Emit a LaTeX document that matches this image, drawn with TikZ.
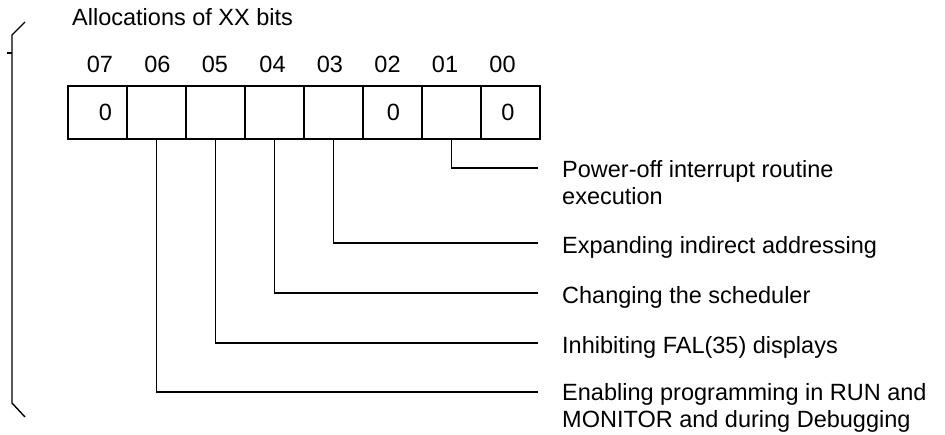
\documentclass[tikz,border=0pt]{standalone}
\usepackage{fontspec}
\setmainfont{Liberation Sans}
\begin{document}
\begin{tikzpicture}[x=1pt,y=-1pt,
  txt/.style={inner sep=0pt, font=\fontsize{23.5}{27}\selectfont},
  cell/.style={draw, line width=1.8pt, minimum width=59pt, minimum height=53pt, inner sep=0pt},
  lbl/.style={txt, anchor=base west, align=left},
  conn/.style={line width=1.4pt},
  brk/.style={line width=1.4pt}]
\useasboundingbox (0,0) rectangle (945,435);
% title
\node[txt, anchor=west] (title) at (72,17) {Allocations of XX bits};
% cells and bit numbers
\foreach \b [count=\i from 0] in {07,06,05,04,03,02,01,00} {
  \node[cell] (c\b) at (97.5+59*\i,112.5) {};
  \node[txt] (n\b) at (100+57.5*\i,64) {\b};
}
\node[txt] (v07) at (105.5,112.5) {0};
\node[txt] (v02) at (393.5,112.5) {0};
\node[txt] (v00) at (508,112.5) {0};
% labels
\node[lbl] (l01) at (562,205) {Power-off interrupt routine\\execution};
\node[lbl] (l03) at (562,254) {Expanding indirect addressing};
\node[lbl] (l04) at (562,304) {Changing the scheduler};
\node[lbl] (l05) at (562,354) {Inhibiting FAL(35) displays};
\node[lbl] (l06) at (562,428) {Enabling programming in RUN and\\MONITOR and during Debugging};
% connector ends
\coordinate (e01) at (538,168);
\coordinate (e03) at (538,243);
\coordinate (e04) at (538,293);
\coordinate (e05) at (538,343);
\coordinate (e06) at (538,392);
\draw[conn] (c01.south) |- (e01);
\draw[conn] (c03.south) |- (e03);
\draw[conn] (c04.south) |- (e04);
\draw[conn] (c05.south) |- (e05);
\draw[conn] (c06.south) |- (e06);
% bracket
\draw[brk] (25,22) -- (12,35) -- (12,403) -- (25,417);
\draw[brk] (7,53) -- (12,53);
\end{tikzpicture}
\end{document}
